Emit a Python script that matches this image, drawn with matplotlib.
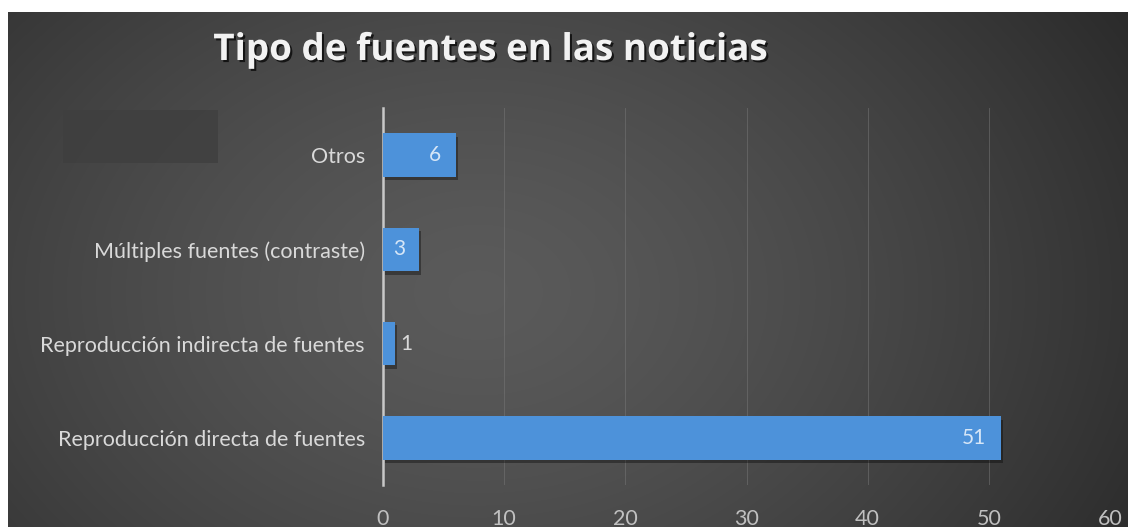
import matplotlib
matplotlib.use('Agg')
import matplotlib.pyplot as plt
import matplotlib.patheffects as pe
import numpy as np

categories = ['Reproducción directa de fuentes', 'Reproducción indirecta de fuentes',
              'Múltiples fuentes (contraste)', 'Otros']
values = [51, 1, 3, 6]
x_ticks = [0, 10, 20, 30, 40, 50, 60]

TITLE = 'Tipo de fuentes en las noticias'
LABEL_COLOR = '#d9d9d9'
BAR_COLOR = '#4d92da'

W, H = 1128, 527
fig = plt.figure(figsize=(W / 100, H / 100), dpi=100)
fig.patch.set_facecolor('white')

# dark radial background (white strip on top and left)
bg = fig.add_axes([8 / W, 0, 1 - 8 / W, 1 - 12 / H])
bg.set_axis_off()
yy, xx = np.mgrid[0:515, 0:1120]
r = np.hypot((xx - 470) / 760, (yy - 280) / 560)
shade = np.clip(0.355 - 0.19 * r ** 1.4, 0.15, 0.4)
bg.imshow(np.dstack([shade] * 3), aspect='auto', extent=[0, 1, 0, 1], origin='upper')
bg.set_xlim(0, 1)
bg.set_ylim(0, 1)
# leftover legend box
bg.add_patch(plt.Rectangle(((63 - 8) / 1120, 1 - (163 - 12) / 515), 155 / 1120, 53 / 515,
                           facecolor='#3f3f3f', edgecolor='none', alpha=0.8))

ax = fig.add_axes([383 / W, 1 - 485 / H, (1110 - 383) / W, (485 - 108) / H])
ax.patch.set_alpha(0)

y = np.arange(len(categories))
bars = ax.barh(y, values, height=0.46, color=BAR_COLOR, zorder=3,
               path_effects=[pe.SimplePatchShadow(offset=(1.5, -2.5), shadow_rgbFace='black', alpha=0.35),
                             pe.Normal()])

for b, v in zip(bars, values):
    yc = b.get_y() + b.get_height() / 2
    if v >= 3:
        ax.text(v - 1.2, yc, str(v), ha='right', va='center', color='#d6e6f7',
                fontsize=15, family='Lato', zorder=4)
    else:
        ax.text(v + 0.4, yc, str(v), ha='left', va='center', color=LABEL_COLOR,
                fontsize=15, family='Lato', zorder=4)

ax.set_xlim(0, 60)
ax.set_ylim(-0.5, len(categories) - 0.5)
ax.set_xticks(x_ticks)
ax.set_yticks(y)
ax.set_yticklabels(categories)
ax.grid(axis='x', color='#7a7a7a', linewidth=0.7, alpha=0.5, zorder=0)
ax.set_axisbelow(True)
for s in ['top', 'right', 'bottom']:
    ax.spines[s].set_visible(False)
ax.spines['left'].set_color('#c8c8c8')
ax.spines['left'].set_linewidth(1.8)
ax.tick_params(axis='both', length=0, colors=LABEL_COLOR, labelsize=15.5)
ax.tick_params(axis='x', pad=17, colors='#c0c0c0')
ax.tick_params(axis='y', pad=13)
for lab in ax.get_xticklabels() + ax.get_yticklabels():
    lab.set_family('Lato')

fig.text(490 / W, 1 - 50 / H, TITLE, ha='center', va='center', color='#f2f2f2',
         fontsize=26.5, fontweight='bold', family='Open Sans',
         path_effects=[pe.withSimplePatchShadow(offset=(1.5, -1.5), shadow_rgbFace='black', alpha=0.7)])

fig.savefig('out.png', dpi=100, facecolor=fig.get_facecolor())
